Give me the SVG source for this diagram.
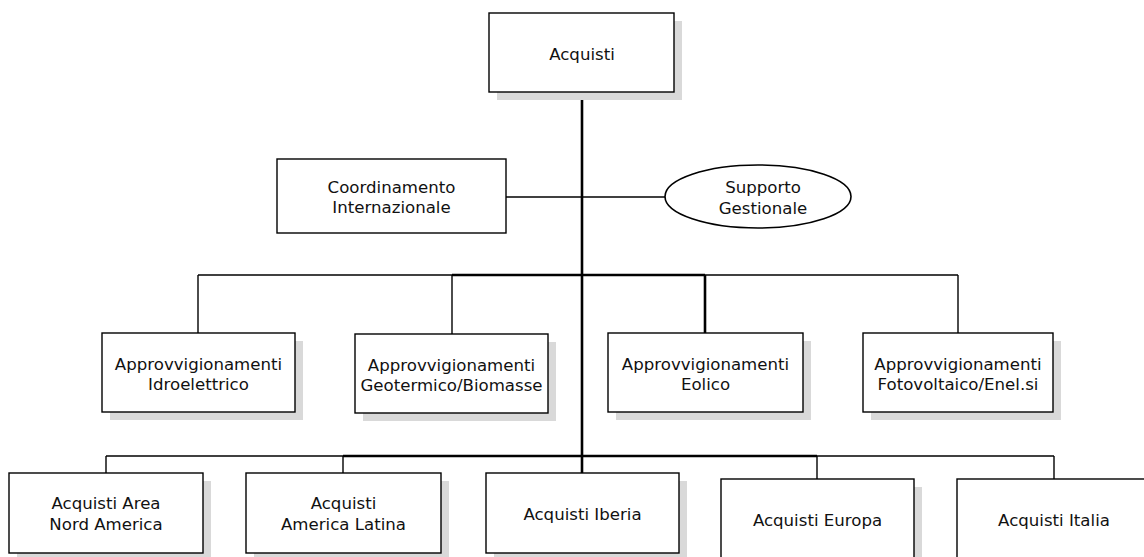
<svg xmlns="http://www.w3.org/2000/svg" width="1144" height="557" viewBox="0 0 1144 557">
<style>
.box{fill:#fff;stroke:#000;stroke-width:1.4}
.sh{fill:#d9d9d9}
.t{font-family:"DejaVu Sans",Verdana,sans-serif;font-size:16.6px;fill:#111;text-anchor:middle}
.thin{stroke:#000;stroke-width:1.4;fill:none}
.thick{stroke:#000;stroke-width:2.6;fill:none}
</style>
<rect width="1144" height="557" fill="#fff"/>
<g id="connectors">
<line class="thick" x1="582" y1="92" x2="582" y2="473"/>
<line class="thin" x1="506" y1="197" x2="665" y2="197"/>
<line class="thin" x1="198" y1="275" x2="452" y2="275"/>
<line class="thick" x1="452" y1="275" x2="705" y2="275"/>
<line class="thin" x1="705" y1="275" x2="958" y2="275"/>
<line class="thin" x1="198" y1="275" x2="198" y2="333"/>
<line class="thin" x1="452" y1="275" x2="452" y2="334"/>
<line class="thick" x1="705" y1="275" x2="705" y2="333"/>
<line class="thin" x1="958" y1="275" x2="958" y2="333"/>
<line class="thin" x1="106" y1="456" x2="343" y2="456"/>
<line class="thick" x1="343" y1="456" x2="817" y2="456"/>
<line class="thin" x1="817" y1="456" x2="1054" y2="456"/>
<line class="thin" x1="106" y1="456" x2="106" y2="473"/>
<line class="thin" x1="343" y1="456" x2="343" y2="473"/>
<line class="thin" x1="817" y1="456" x2="817" y2="479"/>
<line class="thin" x1="1054" y1="456" x2="1054" y2="479"/>
</g>
<g id="n-acquisti">
<rect class="sh" x="497" y="21" width="185" height="79"/>
<rect class="box" x="489" y="13" width="185" height="79"/>
<text class="t" x="582" y="60">Acquisti</text>
</g>
<g id="n-coordinamento">
<rect class="box" x="277" y="159" width="229" height="74"/>
<text class="t" x="391.5" y="193">Coordinamento</text>
<text class="t" x="391.5" y="213">Internazionale</text>
</g>
<g id="n-supporto">
<ellipse fill="#fff" stroke="#000" stroke-width="1.6" cx="758" cy="196.5" rx="93" ry="31.5"/>
<text class="t" x="763" y="193">Supporto</text>
<text class="t" x="763" y="214">Gestionale</text>
</g>
<g id="n-idro">
<rect class="sh" x="110" y="341" width="193" height="79"/>
<rect class="box" x="102" y="333" width="193" height="79"/>
<text class="t" x="198.5" y="370">Approvvigionamenti</text>
<text class="t" x="198.5" y="390">Idroelettrico</text>
</g>
<g id="n-geo">
<rect class="sh" x="363" y="342" width="193" height="79"/>
<rect class="box" x="355" y="334" width="193" height="79"/>
<text class="t" x="451.5" y="371">Approvvigionamenti</text>
<text class="t" x="451.5" y="391">Geotermico/Biomasse</text>
</g>
<g id="n-eolico">
<rect class="sh" x="616" y="341" width="195" height="79"/>
<rect class="box" x="608" y="333" width="195" height="79"/>
<text class="t" x="705.5" y="370">Approvvigionamenti</text>
<text class="t" x="705.5" y="390">Eolico</text>
</g>
<g id="n-foto">
<rect class="sh" x="871" y="341" width="190" height="79"/>
<rect class="box" x="863" y="333" width="190" height="79"/>
<text class="t" x="958" y="370">Approvvigionamenti</text>
<text class="t" x="958" y="390">Fotovoltaico/Enel.si</text>
</g>
<g id="n-nordamerica">
<rect class="sh" x="17" y="481" width="194" height="80"/>
<rect class="box" x="9" y="473" width="194" height="80"/>
<text class="t" x="106" y="509">Acquisti Area</text>
<text class="t" x="106" y="530">Nord America</text>
</g>
<g id="n-latina">
<rect class="sh" x="254" y="481" width="195" height="80"/>
<rect class="box" x="246" y="473" width="195" height="80"/>
<text class="t" x="343.5" y="509">Acquisti</text>
<text class="t" x="343.5" y="530">America Latina</text>
</g>
<g id="n-iberia">
<rect class="sh" x="494" y="481" width="193" height="80"/>
<rect class="box" x="486" y="473" width="193" height="80"/>
<text class="t" x="582.5" y="520">Acquisti Iberia</text>
</g>
<g id="n-europa">
<rect class="sh" x="729" y="487" width="193" height="80"/>
<rect class="box" x="721" y="479" width="193" height="80"/>
<text class="t" x="817.5" y="526">Acquisti Europa</text>
</g>
<g id="n-italia">
<rect class="box" x="957" y="479" width="194" height="80"/>
<text class="t" x="1054" y="526">Acquisti Italia</text>
</g>
</svg>
